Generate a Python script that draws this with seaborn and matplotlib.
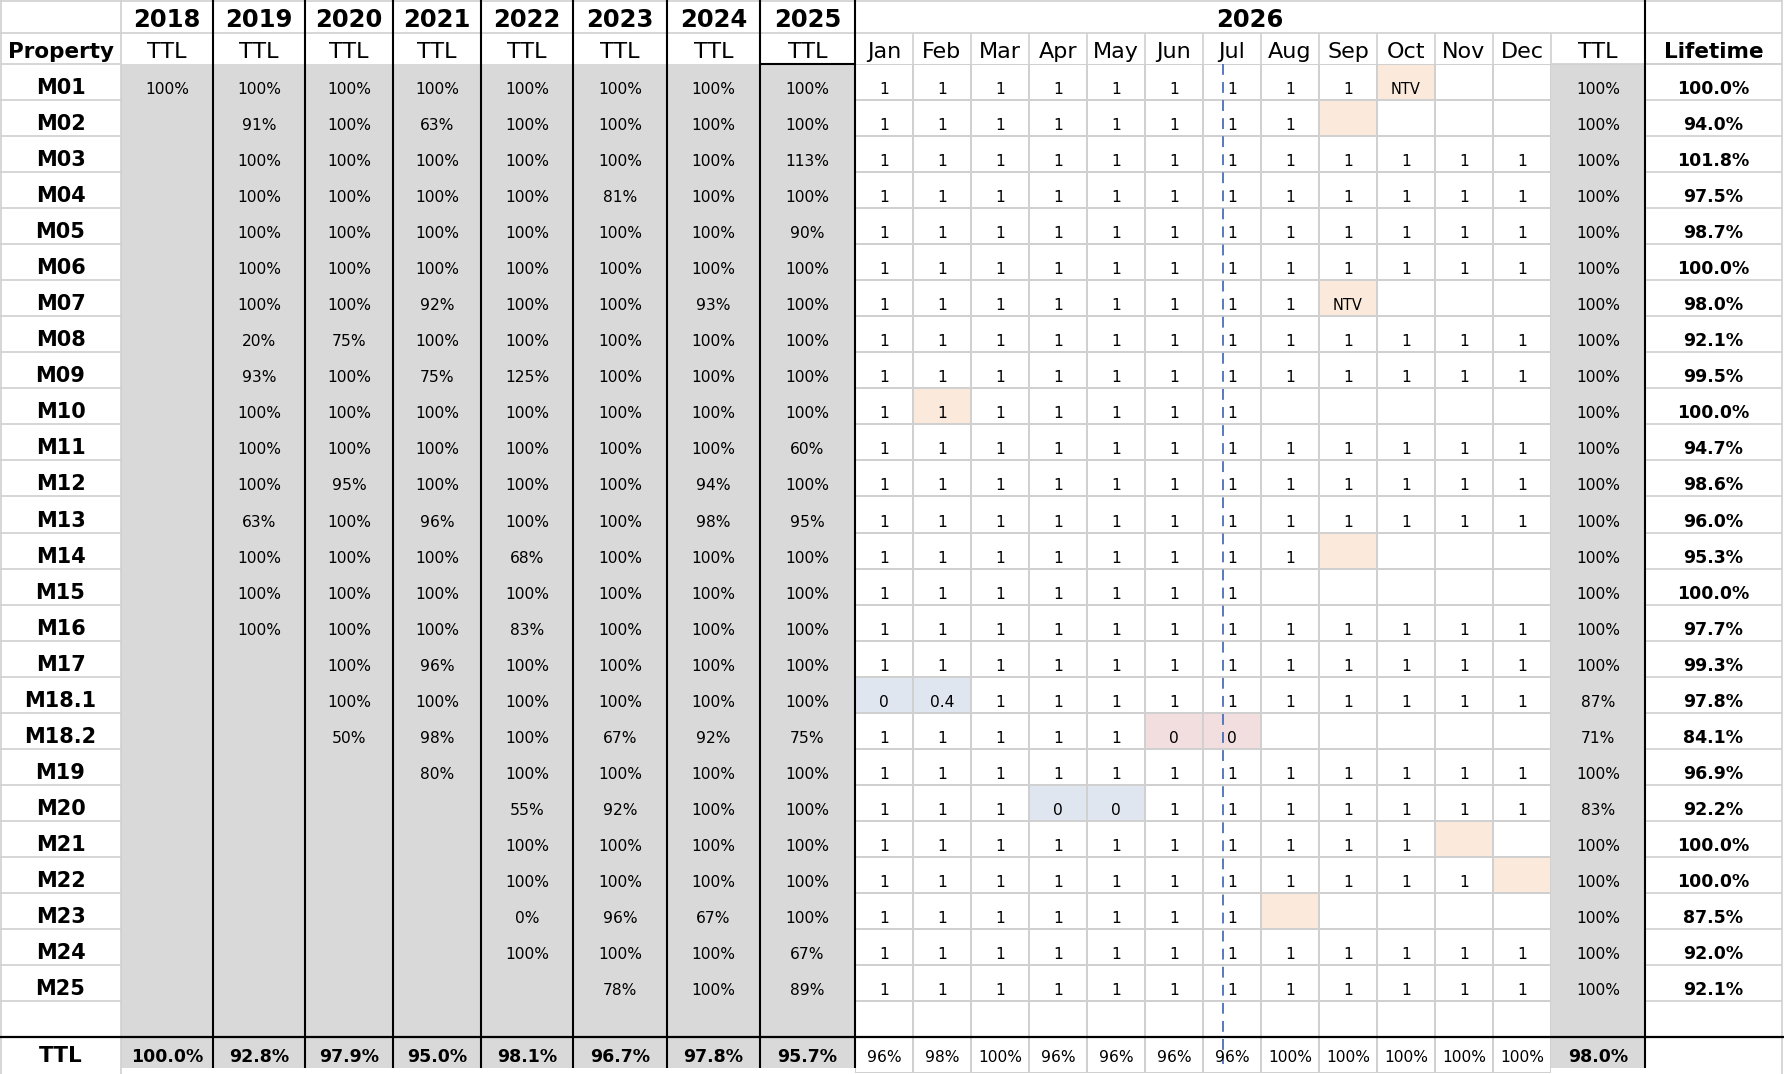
import numpy as np
import matplotlib.pyplot as plt
from matplotlib.colors import ListedColormap
from matplotlib.patches import Rectangle
import seaborn as sns

# ---- data ----
years = ["2018", "2019", "2020", "2021", "2022", "2023", "2024", "2025"]
months = ["Jan", "Feb", "Mar", "Apr", "May", "Jun",
          "Jul", "Aug", "Sep", "Oct", "Nov", "Dec"]
properties = ["M01", "M02", "M03", "M04", "M05", "M06", "M07", "M08", "M09",
              "M10", "M11", "M12", "M13", "M14", "M15", "M16", "M17",
              "M18.1", "M18.2", "M19", "M20", "M21", "M22", "M23", "M24", "M25"]

# yearly totals per property, 2018..2025 (None = blank cell)
N = None
year_ttl = [
    [100, 100, 100, 100, 100, 100, 100, 100],
    [N, 91, 100, 63, 100, 100, 100, 100],
    [N, 100, 100, 100, 100, 100, 100, 113],
    [N, 100, 100, 100, 100, 81, 100, 100],
    [N, 100, 100, 100, 100, 100, 100, 90],
    [N, 100, 100, 100, 100, 100, 100, 100],
    [N, 100, 100, 92, 100, 100, 93, 100],
    [N, 20, 75, 100, 100, 100, 100, 100],
    [N, 93, 100, 75, 125, 100, 100, 100],
    [N, 100, 100, 100, 100, 100, 100, 100],
    [N, 100, 100, 100, 100, 100, 100, 60],
    [N, 100, 95, 100, 100, 100, 94, 100],
    [N, 63, 100, 96, 100, 100, 98, 95],
    [N, 100, 100, 100, 68, 100, 100, 100],
    [N, 100, 100, 100, 100, 100, 100, 100],
    [N, 100, 100, 100, 83, 100, 100, 100],
    [N, N, 100, 96, 100, 100, 100, 100],
    [N, N, 100, 100, 100, 100, 100, 100],
    [N, N, 50, 98, 100, 67, 92, 75],
    [N, N, N, 80, 100, 100, 100, 100],
    [N, N, N, N, 55, 92, 100, 100],
    [N, N, N, N, 100, 100, 100, 100],
    [N, N, N, N, 100, 100, 100, 100],
    [N, N, N, N, 0, 96, 67, 100],
    [N, N, N, N, 100, 100, 100, 67],
    [N, N, N, N, N, 78, 100, 89],
]
year_totals = [100.0, 92.8, 97.9, 95.0, 98.1, 96.7, 97.8, 95.7]

# 2026 monthly cells ("-" = blank)
month_vals = [
    "1 1 1 1 1 1 1 1 1 NTV - -",
    "1 1 1 1 1 1 1 1 - - - -",
    "1 1 1 1 1 1 1 1 1 1 1 1",
    "1 1 1 1 1 1 1 1 1 1 1 1",
    "1 1 1 1 1 1 1 1 1 1 1 1",
    "1 1 1 1 1 1 1 1 1 1 1 1",
    "1 1 1 1 1 1 1 1 NTV - - -",
    "1 1 1 1 1 1 1 1 1 1 1 1",
    "1 1 1 1 1 1 1 1 1 1 1 1",
    "1 1 1 1 1 1 1 - - - - -",
    "1 1 1 1 1 1 1 1 1 1 1 1",
    "1 1 1 1 1 1 1 1 1 1 1 1",
    "1 1 1 1 1 1 1 1 1 1 1 1",
    "1 1 1 1 1 1 1 1 - - - -",
    "1 1 1 1 1 1 1 - - - - -",
    "1 1 1 1 1 1 1 1 1 1 1 1",
    "1 1 1 1 1 1 1 1 1 1 1 1",
    "0 0.4 1 1 1 1 1 1 1 1 1 1",
    "1 1 1 1 1 0 0 - - - - -",
    "1 1 1 1 1 1 1 1 1 1 1 1",
    "1 1 1 0 0 1 1 1 1 1 1 1",
    "1 1 1 1 1 1 1 1 1 1 - -",
    "1 1 1 1 1 1 1 1 1 1 1 -",
    "1 1 1 1 1 1 1 - - - - -",
    "1 1 1 1 1 1 1 1 1 1 1 1",
    "1 1 1 1 1 1 1 1 1 1 1 1",
]
# cell highlight: . none, p peach, b blue, r red
month_flags = [
    ".........p..", "........p...", "............", "............",
    "............", "............", "........p...", "............",
    "............", ".p..........", "............", "............",
    "............", "........p...", "............", "............",
    "............", "bb..........", ".....rr.....", "............",
    "...bb.......", "..........p.", "...........p", ".......p....",
    "............", "............",
]
month_totals = [96, 98, 100, 96, 96, 96, 96, 100, 100, 100, 100, 100]
ttl_2026 = [100, 100, 100, 100, 100, 100, 100, 100, 100, 100, 100, 100, 100,
            100, 100, 100, 100, 87, 71, 100, 83, 100, 100, 100, 100, 100]
ttl_2026_total = 98.0
lifetime = [100.0, 94.0, 101.8, 97.5, 98.7, 100.0, 98.0, 92.1, 99.5, 100.0,
            94.7, 98.6, 96.0, 95.3, 100.0, 97.7, 99.3, 97.8, 84.1, 96.9,
            92.2, 100.0, 100.0, 87.5, 92.0, 92.1]
cutoff_month = 6.35  # "today" marker, in month units from Jan

# ---- layout (pixels) ----
W, H = 1784, 1074
col_edges = [0, 121, 212.7, 305, 393, 481, 573, 667, 760, 855]
mx0, mw = 855, 58
ttl_x0, ttl_x1 = 1551, 1645
life_x0, life_x1 = 1645, 1782
data_top, row_h = 64, 36.04
n = len(properties)
rows_bot = data_top + n * row_h
ttl_top = rows_bot + row_h
ttl_bot = 1068

GRAY = "#d9d9d9"
GRID = "#d0d0d0"
flag_colors = {".": 0, "p": 1, "b": 2, "r": 3}

sns.set_theme(style="white")
plt.rcParams["font.family"] = ["DejaVu Sans"]

fig = plt.figure(figsize=(W / 100, H / 100), dpi=100)

# month block as a seaborn heatmap (26 property rows + blank row + TTL row)
codes = np.zeros((n + 2, 12))
for i, fl in enumerate(month_flags):
    codes[i] = [flag_colors[c] for c in fl]
hax = fig.add_axes([mx0 / W, 1 - (data_top + (n + 2) * row_h) / H,
                    12 * mw / W, (n + 2) * row_h / H])
sns.heatmap(codes, ax=hax, cmap=ListedColormap(["white", "#fbeadc", "#dfe6f0", "#f2dede"]),
            vmin=-0.5, vmax=3.5, cbar=False, linewidths=1.2, linecolor=GRID,
            xticklabels=False, yticklabels=False)
hax.vlines(cutoff_month, 0, n + 1.75, colors="#4a6fb8", lw=1.3,
           linestyles=(0, (6, 4)), zorder=5, clip_on=False)

# main overlay axes in pixel coordinates
ax = fig.add_axes([0, 0, 1, 1])
ax.set_xlim(0, W)
ax.set_ylim(H, 0)
ax.axis("off")
ax.set_zorder(2)

# gray fills
ax.add_patch(Rectangle((col_edges[1], data_top), col_edges[-1] - col_edges[1],
                       ttl_bot - data_top, color=GRAY, lw=0, zorder=1))
ax.add_patch(Rectangle((ttl_x0, data_top), ttl_x1 - ttl_x0,
                       ttl_bot - data_top, color=GRAY, lw=0, zorder=1))

# light grid lines
glw = 1.2
ax.hlines([1, 33], 0, life_x1, colors=GRID, lw=glw, zorder=2)
ax.hlines(data_top, ttl_x0, life_x1, colors=GRID, lw=glw, zorder=2)
row_lines = [data_top + k * row_h for k in range(n + 2)]
ax.hlines(row_lines, 0, col_edges[1], colors=GRID, lw=glw, zorder=2)
ax.hlines(row_lines, life_x0, life_x1, colors=GRID, lw=glw, zorder=2)
ax.vlines([1, col_edges[1], life_x1], 0, H, colors=GRID, lw=glw, zorder=2)
ax.vlines([mx0 + k * mw for k in range(1, 13)], 33, data_top,
          colors=GRID, lw=glw, zorder=2)

# black borders
ax.vlines(col_edges[2:] + [life_x0], 0, ttl_bot, colors="black", lw=1.5, zorder=4)
ax.hlines(ttl_top, 0, W, colors="black", lw=1.6, zorder=4)
ax.hlines(data_top, col_edges[-2], col_edges[-1], colors="black", lw=1.5, zorder=4)

# text helpers
year_cx = [(a + b) / 2 for a, b in zip(col_edges[1:-1], col_edges[2:])]
month_cx = [mx0 + (j + 0.5) * mw for j in range(12)]
prop_cx = col_edges[1] / 2
ttl_cx = (ttl_x0 + ttl_x1) / 2
life_cx = (life_x0 + life_x1) / 2


def put(x, y, s, size, bold=False):
    ax.text(x, y, s, ha="center", va="baseline", fontsize=size,
            fontweight="bold" if bold else "normal", color="black", zorder=5)


# headers
for x, yr in zip(year_cx, years):
    put(x, 27, yr, 17.5, bold=True)
put((mx0 + ttl_x1) / 2, 27, "2026", 17.5, bold=True)
put(prop_cx, 58, "Property", 15.5, bold=True)
for x in year_cx:
    put(x, 58, "TTL", 16)
for x, m in zip(month_cx, months):
    put(x, 58, m, 16)
put(ttl_cx, 58, "TTL", 16)
put(life_cx, 58, "Lifetime", 15.5, bold=True)

# body rows
for i, name in enumerate(properties):
    yb = data_top + (i + 1) * row_h - 6
    put(prop_cx, yb, name, 15, bold=True)
    for x, v in zip(year_cx, year_ttl[i]):
        if v is not None:
            put(x, yb, f"{v}%", 11.2)
    for x, v in zip(month_cx, month_vals[i].split()):
        if v != "-":
            put(x, yb, v, 10.5 if v == "NTV" else 11.2)
    put(ttl_cx, yb, f"{ttl_2026[i]}%", 11.2)
    put(life_cx, yb, f"{lifetime[i]:.1f}%", 12.5, bold=True)

# totals row
yb = ttl_bot - 6
put(prop_cx, yb, "TTL", 15.5, bold=True)
for x, v in zip(year_cx, year_totals):
    put(x, yb, f"{v:.1f}%", 12.5, bold=True)
for x, v in zip(month_cx, month_totals):
    put(x, yb, f"{v}%", 11.2)
put(ttl_cx, yb, f"{ttl_2026_total:.1f}%", 12.5, bold=True)

fig.savefig("out.png", dpi=100, facecolor="white")
